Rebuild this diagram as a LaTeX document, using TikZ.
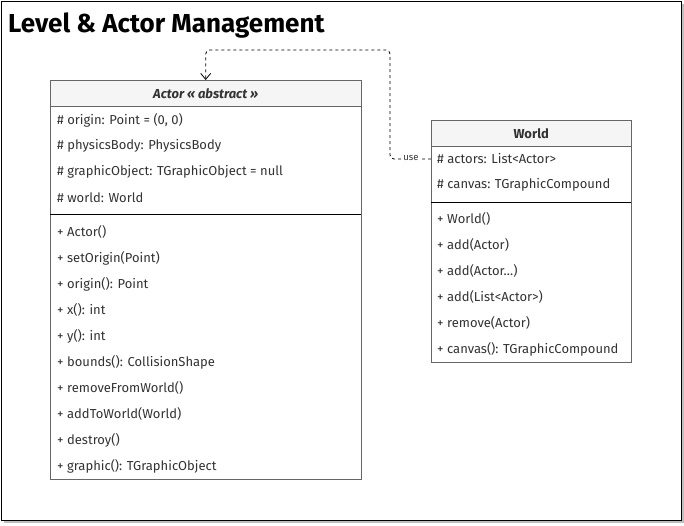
\documentclass[tikz,border=0pt]{standalone}
\usepackage{fontspec}
\setmainfont{Fira Sans}
\IfFontExistsTF{FiraSans-Medium.otf}
	{\newfontfamily\medfont{FiraSans-Medium.otf}[ItalicFont=FiraSans-MediumItalic.otf]}
	{\newcommand\medfont{\bfseries}}
\usetikzlibrary{arrows.meta}
\definecolor{head}{RGB}{245, 245, 245}
\definecolor{edge}{RGB}{102, 102, 102}
\definecolor{txt}{RGB}{51, 51, 51}
\definecolor{shadow}{RGB}{190, 190, 190}

\begin{document}
\begin{tikzpicture}[x=1pt, y=-1pt,
	box/.style={draw=edge, fill=white, anchor=north west, inner sep=0pt}, % caixa da classe
	headbox/.style={box, fill=head, text=txt, font=\fontsize{13}{15}\selectfont\medfont},
	row/.style={anchor=west, inner sep=0pt, text=txt, font=\fontsize{13}{15}\selectfont},
	uses/.style={draw=black, line width=0.8pt, dash pattern=on 3pt off 3pt, rounded corners=4,
		-{Straight Barb[length=6pt, width=10pt, line width=0.8pt]}},
	]
\useasboundingbox (0,0) rectangle (684,526);
% moldura
\fill[shadow] (4,4) rectangle (684,523);
\draw[fill=white] (1,1) rectangle (681,520);
\node[anchor=west, inner sep=0pt, font=\fontsize{26}{30}\selectfont\medfont] (title) at (8,26) {Level \& Actor Management};

% Actor
\node[box, minimum width=311, minimum height=399] (actor) at (50,80) {};
\node[headbox, minimum width=311, minimum height=26] (actorhead) at (50,80) {\itshape Actor « abstract »};
\foreach \txt [count=\i] in {{\# origin: Point = (0, 0)}, {\# physicsBody: PhysicsBody},
	{\# graphicObject: TGraphicObject = null}, {\# world: World}}
	\node[row] (actorattr\i) at (57,{94+26*\i}) {\txt};
\draw[black] (actor.west |- 0,214) -- (actor.east |- 0,214);
\foreach \txt [count=\i] in {{+ Actor()}, {+ setOrigin(Point)}, {+ origin(): Point}, {+ x(): int},
	{+ y(): int}, {+ bounds(): CollisionShape}, {+ removeFromWorld()}, {+ addToWorld(World)},
	{+ destroy()}, {+ graphic(): TGraphicObject}}
	\node[row] (actorop\i) at (57,{206+26*\i}) {\txt};

% World
\node[box, minimum width=200, minimum height=242] (world) at (431,120) {};
\node[headbox, minimum width=200, minimum height=26] (worldhead) at (431,120) {World};
\foreach \txt [count=\i] in {{\# actors: List<Actor>}, {\# canvas: TGraphicCompound}}
	\node[row] (worldattr\i) at (437,{133+26*\i}) {\txt};
\draw[black] (world.west |- 0,202) -- (world.east |- 0,202);
\foreach \txt [count=\i] in {{+ World()}, {+ add(Actor)}, {+ add(Actor\ldots)}, {+ add(List<Actor>)},
	{+ remove(Actor)}, {+ canvas(): TGraphicCompound}}
	\node[row] (worldop\i) at (437,{193+26*\i}) {\txt};

% relacao
\draw[uses] (world.west |- worldattr1) -- (390,159) -- (390,50) -- (actorhead.north |- 0,50) -- (actorhead.north);
\node[fill=white, inner sep=1pt, text=txt, font=\fontsize{9.5}{11}\selectfont] (uselabel) at (411,158) {use};
\end{tikzpicture}
\end{document}
